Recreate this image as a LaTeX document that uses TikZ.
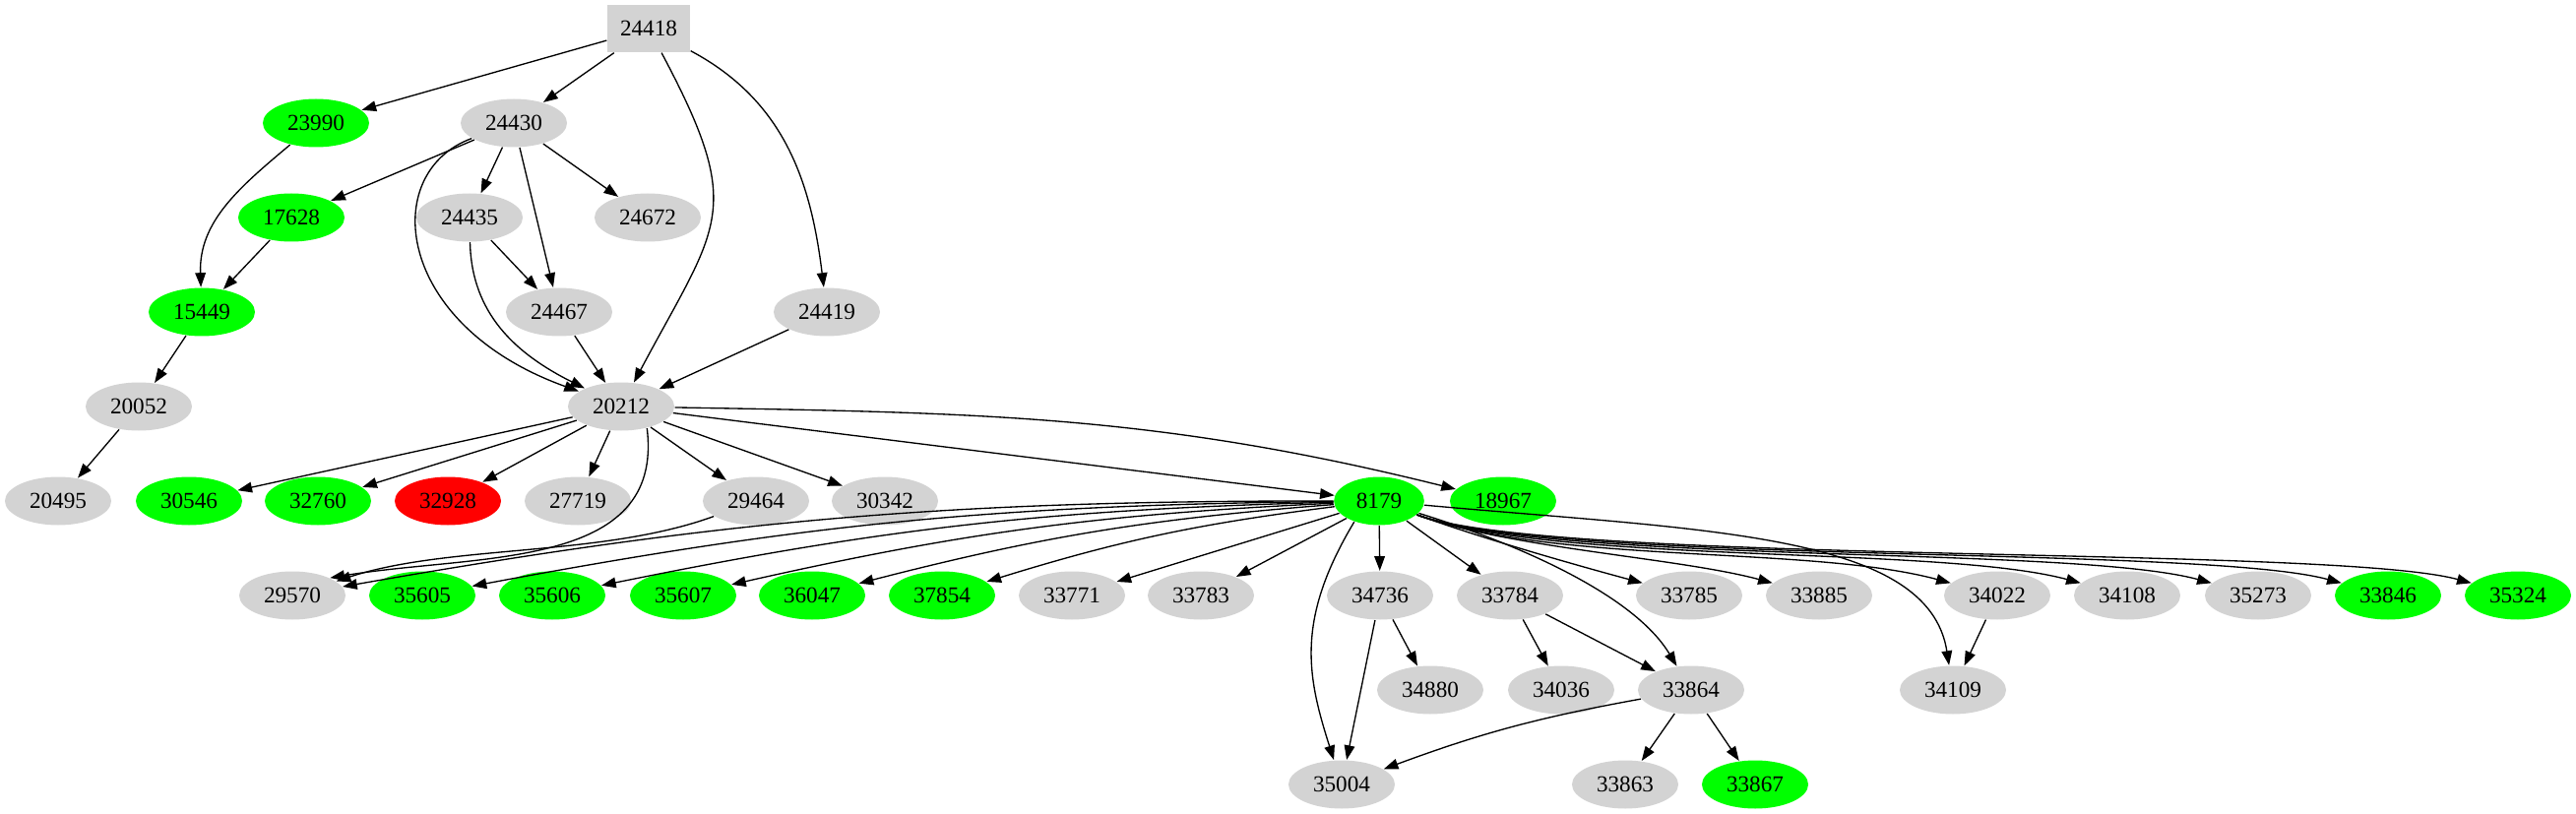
\documentclass[tikz,border=0pt]{standalone}
\usepackage{fontspec}
\setmainfont{Liberation Serif}
\usepackage{xcolor}
\usetikzlibrary{arrows.meta, shapes.geometric, calc, positioning}

\definecolor{gvgray}{RGB}{211,211,211}
\definecolor{gvgreen}{RGB}{0,255,0}
\definecolor{gvred}{RGB}{255,0,0}
\newcommand{\gvfont}{\fontsize{17.4}{20}\selectfont}

\tikzset{
  gvnode/.style={ellipse, inner xsep=6.9pt, inner ysep=0pt, minimum height=36.75pt, font=\gvfont},
  nodegray/.style={gvnode, fill=gvgray},
  nodegreen/.style={gvnode, fill=gvgreen},
  nodered/.style={gvnode, fill=gvred},
  nodebox/.style={rectangle, fill=gvgray, minimum width=63pt, minimum height=36pt, font=\gvfont}
}

\begin{document}
\begin{tikzpicture}[>={Triangle[length=11pt,width=8pt]}, x=0.75pt, y=0.75pt, line width=1pt]
    \useasboundingbox (0,0) rectangle (2617,-827);

    % Hang 0-4
    \node[nodebox]   (n24418) at (659,-29)  {24418};
    \node[nodegreen] (n23990) at (321,-125) {23990};
    \node[nodegray]  (n24430) at (522,-125) {24430};
    \node[nodegreen] (n17628) at (296,-221) {17628};
    \node[nodegray]  (n24435) at (477,-221) {24435};
    \node[nodegray]  (n24672) at (658,-221) {24672};
    \node[nodegreen] (n15449) at (205,-317) {15449};
    \node[nodegray]  (n24467) at (568,-317) {24467};
    \node[nodegray]  (n24419) at (840,-317) {24419};
    \node[nodegray]  (n20052) at (141,-413) {20052};
    \node[nodegray]  (n20212) at (631,-413) {20212};

    % Hang 5
    \node[nodegray]  (n20495) at (59,-509)   {20495};
    \node[nodegreen] (n30546) at (192,-509)  {30546};
    \node[nodegreen] (n32760) at (323,-509)  {32760};
    \node[nodered]   (n32928) at (455,-509)  {32928};
    \node[nodegray]  (n27719) at (587,-509)  {27719};
    \node[nodegray]  (n29464) at (768,-509)  {29464};
    \node[nodegray]  (n30342) at (899,-509)  {30342};
    \node[nodegreen] (n8179)  at (1401,-509) {8179};
    \node[nodegreen] (n18967) at (1527,-509) {18967};

    % Hang 6
    \node[nodegray]  (n29570) at (297,-605)  {29570};
    \node[nodegreen] (n35605) at (429,-605)  {35605};
    \node[nodegreen] (n35606) at (561,-605)  {35606};
    \node[nodegreen] (n35607) at (694,-605)  {35607};
    \node[nodegreen] (n36047) at (825,-605)  {36047};
    \node[nodegreen] (n37854) at (957,-605)  {37854};
    \node[nodegray]  (n33771) at (1089,-605) {33771};
    \node[nodegray]  (n33783) at (1220,-605) {33783};
    \node[nodegray]  (n34736) at (1402,-605) {34736};
    \node[nodegray]  (n33784) at (1534,-605) {33784};
    \node[nodegray]  (n33785) at (1716,-605) {33785};
    \node[nodegray]  (n33885) at (1848,-605) {33885};
    \node[nodegray]  (n34022) at (2029,-605) {34022};
    \node[nodegray]  (n34108) at (2161,-605) {34108};
    \node[nodegray]  (n35273) at (2294,-605) {35273};
    \node[nodegreen] (n33846) at (2426,-605) {33846};
    \node[nodegreen] (n35324) at (2558,-605) {35324};

    % Hang 7-8
    \node[nodegray]  (n34880) at (1453,-701) {34880};
    \node[nodegray]  (n34036) at (1586,-701) {34036};
    \node[nodegray]  (n33864) at (1718,-701) {33864};
    \node[nodegray]  (n34109) at (1984,-701) {34109};
    \node[nodegray]  (n35004) at (1363,-797) {35004};
    \node[nodegray]  (n33863) at (1651,-797) {33863};
    \node[nodegreen] (n33867) at (1783,-797) {33867};

    % Canh phia tren
    \draw[->] (n24418) -- (n23990);
    \draw[->] (n24418) -- (n24430);
    \draw[->] (n24418) to[out=-62, in=62, looseness=1.4] (n20212);
    \draw[->] (n24418) to[out=-28, in=97] (n24419);
    \draw[->] (n23990) to[out=-140, in=92] (n15449);
    \draw[->] (n24430) -- (n17628);
    \draw[->] (n24430) -- (n24435);
    \draw[->] (n24430) -- (n24672);
    \draw[->] (n24430) -- (n24467);
    \draw[->] (n24430) .. controls +(-137,-50) and +(-231,83) .. (n20212);
    \draw[->] (n24435) .. controls +(2,-97) and +(-108,54) .. (n20212);
    \draw[->] (n24435) -- (n24467);
    \draw[->] (n17628) -- (n15449);
    \draw[->] (n24467) -- (n20212);
    \draw[->] (n24419) -- (n20212);
    \draw[->] (n15449) -- (n20052);
    \draw[->] (n20052) -- (n20495);

    % Canh tu 20212
    \foreach \t in {30546,32760,32928,27719,29464,30342,8179}
        \draw[->] (n20212) -- (n\t);
    \draw[->] (n20212) to[out=-1, in=166] (n18967);
    \draw[->] (n20212.-40) .. controls +(18,-145) and +(150,25) .. (n29570.25);
    \draw[->] (n29464) to[out=-160, in=18, looseness=0.8] (n29570);

    % Canh tu 8179
    \foreach \t in {29570,35605,35606,35607,36047,37854}
        \draw[->] (n8179) to[bend right=5] (n\t);
    \foreach \t in {33771,33783,34736,33784}
        \draw[->] (n8179) -- (n\t);
    \foreach \t/\d in {33785/52pt,33885/75pt,34022/112pt,34108/112pt,35273/112pt,33846/112pt,35324/112pt}
        \draw[->] (n8179) to[out=-20, in=165, distance=\d] (n\t);
    \draw[->] (n8179.-140) .. controls +(-60,-100) and +(-35,110) .. (n35004);
    \draw[->] (n8179) .. controls +(130,-40) and +(-60,100) .. (n33864);
    \draw[->] (n8179) .. controls +(330,-30) and +(-25,160) .. (n34109);

    % Canh phia duoi
    \draw[->] (n34736) -- (n34880);
    \draw[->] (n34736) -- (n35004);
    \draw[->] (n33784) -- (n34036);
    \draw[->] (n33784) -- (n33864);
    \draw[->] (n33864) to[bend right=5] (n35004);
    \draw[->] (n33864) -- (n33863);
    \draw[->] (n33864) -- (n33867);
    \draw[->] (n34022) -- (n34109);
\end{tikzpicture}
\end{document}
